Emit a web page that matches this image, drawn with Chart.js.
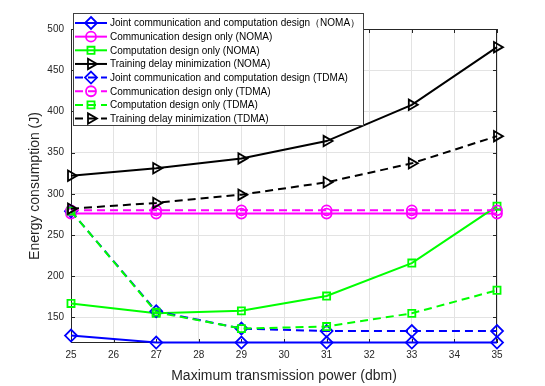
<!DOCTYPE html>
<html><head><meta charset="utf-8">
<script src="https://cdn.jsdelivr.net/npm/chart.js@4/dist/chart.umd.min.js"></script>
<style>html,body{margin:0;padding:0;background:#fff;} #wrap{width:545px;height:386px;position:relative;}</style>
</head><body><div id="wrap"><canvas id="c" width="545" height="386"></canvas></div>
<script>
const powers = [25, 27, 29, 31, 33, 35];
const xTicks = [25, 26, 27, 28, 29, 30, 31, 32, 33, 34, 35];
const yTicks = [150, 200, 250, 300, 350, 400, 450, 500];

const jointNOMA = [128, 119.5, 119.5, 119.5, 119.5, 119.5];
const commNOMA  = [276, 276, 276, 276, 276, 276];
const compNOMA  = [167, 155, 158, 176, 216, 285];
const delayNOMA = [322, 331, 343, 364, 408, 478];
const jointTDMA = [279, 157.5, 136.5, 133.5, 133.5, 133.5];
const commTDMA  = [280, 280, 280, 280, 280, 280];
const compTDMA  = [279, 156.5, 136.5, 139, 155, 183];
const delayTDMA = [282, 289, 299, 314, 337, 370];

const seriesNames = [
  'Joint communication and computation design（NOMA）',
  'Communication design only (NOMA)',
  'Computation design only (NOMA)',
  'Training delay minimization (NOMA)',
  'Joint communication and computation design (TDMA)',
  'Communication design only (TDMA)',
  'Computation design only (TDMA)',
  'Training delay minimization (TDMA)'
];
const seriesValues = [jointNOMA, commNOMA, compNOMA, delayNOMA, jointTDMA, commTDMA, compTDMA, delayTDMA];

const colors = ['#0000ff', '#ff00ff', '#00ff00', '#000000'];
const styles = ['rectRot', 'circle', 'rect', 'triangle'];
const radii = [6, 5, 5, 6];
const DASH = [8, 5];

Chart.defaults.font.family = '"Liberation Sans", Arial, sans-serif';
Chart.defaults.color = '#262626';

function drawMarker(ctx, style, x, y, r) {
  ctx.beginPath();
  if (style === 'rectRot') {
    ctx.moveTo(x, y - r); ctx.lineTo(x + r, y); ctx.lineTo(x, y + r); ctx.lineTo(x - r, y); ctx.closePath();
  } else if (style === 'circle') {
    ctx.arc(x, y, r, 0, Math.PI * 2);
  } else if (style === 'rect') {
    const s = Math.SQRT1_2 * r; ctx.rect(x - s, y - s, 2 * s, 2 * s);
  } else if (style === 'triangle') {
    ctx.moveTo(x + r, y);
    ctx.lineTo(x + r * Math.cos(2 * Math.PI / 3), y + r * Math.sin(2 * Math.PI / 3));
    ctx.lineTo(x + r * Math.cos(4 * Math.PI / 3), y + r * Math.sin(4 * Math.PI / 3));
    ctx.closePath();
  }
  ctx.stroke();
}

const framePlugin = {
  id: 'frame',
  beforeDatasetsDraw(chart) {
    const { ctx, chartArea: a, scales: { x, y } } = chart;
    ctx.save();
    ctx.strokeStyle = '#262626';
    ctx.lineWidth = 1;
    ctx.strokeRect(Math.round(a.left) + 0.5, Math.round(a.top) + 0.5, Math.round(a.right - a.left) - 1, Math.round(a.bottom - a.top) - 1);
    ctx.beginPath();
    const tl = 4;
    xTicks.forEach(v => {
      const px = Math.round(x.getPixelForValue(v)) + 0.5;
      ctx.moveTo(px, a.bottom); ctx.lineTo(px, a.bottom - tl);
      ctx.moveTo(px, a.top); ctx.lineTo(px, a.top + tl);
    });
    yTicks.forEach(v => {
      const py = Math.round(y.getPixelForValue(v)) + 0.5;
      ctx.moveTo(a.left, py); ctx.lineTo(a.left + tl, py);
      ctx.moveTo(a.right, py); ctx.lineTo(a.right - tl, py);
    });
    ctx.stroke();
    ctx.restore();
  }
};

const legendPlugin = {
  id: 'myLegend',
  afterDraw(chart) {
    const ctx = chart.ctx;
    ctx.save();
    const bx = 73.5, by = 13.5, bw = 290, bh = 112;
    ctx.fillStyle = '#fff';
    ctx.fillRect(bx, by, bw, bh);
    ctx.strokeStyle = '#404040';
    ctx.lineWidth = 1;
    ctx.strokeRect(bx, by, bw, bh);
    ctx.font = '10px "Liberation Sans", Arial, sans-serif';
    ctx.textBaseline = 'middle';
    seriesNames.forEach((name, i) => {
      const yy = 23 + i * 13.65;
      const c = colors[i % 4];
      ctx.strokeStyle = c;
      ctx.lineWidth = 2;
      ctx.setLineDash(i >= 4 ? DASH : []);
      ctx.beginPath(); ctx.moveTo(75, yy); ctx.lineTo(107, yy); ctx.stroke();
      ctx.setLineDash([]);
      ctx.lineWidth = 1.8;
      drawMarker(ctx, styles[i % 4], 91, yy, radii[i % 4]);
      ctx.fillStyle = '#000';
      ctx.fillText(name, 110, yy + 0.5);
    });
    ctx.restore();
  }
};

const datasets = seriesNames.map((name, i) => ({
  label: name,
  data: powers.map((p, j) => ({ x: p, y: seriesValues[i][j] })),
  borderColor: colors[i % 4],
  backgroundColor: colors[i % 4],
  borderWidth: 2,
  borderDash: i >= 4 ? DASH : [],
  pointStyle: styles[i % 4],
  pointRadius: radii[i % 4],
  pointRotation: (i % 4 === 3) ? 90 : 0,
  pointBorderWidth: 1.8,
  pointBackgroundColor: 'rgba(0,0,0,0)',
  pointBorderColor: colors[i % 4],
  tension: 0,
  fill: false,
  clip: false,
  order: 8 - i
}));

new Chart(document.getElementById('c'), {
  type: 'line',
  data: { datasets },
  options: {
    responsive: false,
    animation: false,
    devicePixelRatio: 1,
    layout: { padding: { top: 29, right: 48, left: 0, bottom: 0 } },
    plugins: { legend: { display: false }, tooltip: { enabled: false } },
    scales: {
      x: {
        type: 'linear', min: 25, max: 35,
        afterBuildTicks: s => { s.ticks = xTicks.map(v => ({ value: v })); },
        afterFit: s => { s.height = 43; },
        grid: { color: '#e3e3e3', drawTicks: false },
        border: { display: false },
        ticks: { padding: 6, font: { size: 10 }, color: '#262626', maxRotation: 0 },
        title: { display: true, text: 'Maximum transmission power (dbm)', font: { size: 14 }, color: '#262626', padding: { top: 0, bottom: 1.6 } }
      },
      y: {
        type: 'linear', min: 119, max: 500,
        afterBuildTicks: s => { s.ticks = yTicks.map(v => ({ value: v })); },
        afterFit: s => { s.width = 71; },
        grid: { color: '#e3e3e3', drawTicks: false },
        border: { display: false },
        ticks: { padding: 7, font: { size: 10 }, color: '#262626' },
        title: { display: true, text: 'Energy consumption (J)', font: { size: 14 }, color: '#262626', padding: { top: 26.6, bottom: 0 } }
      }
    }
  },
  plugins: [framePlugin, legendPlugin]
});
</script>
</body></html>
